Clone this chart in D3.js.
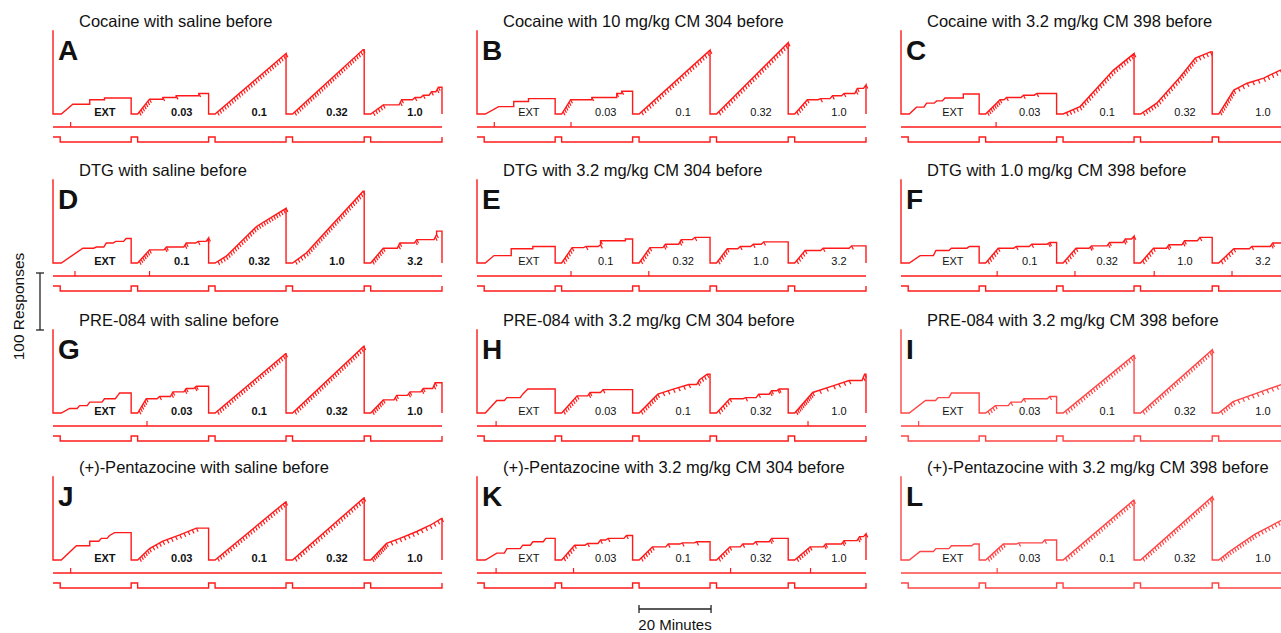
<!DOCTYPE html>
<html>
  <head>
    <meta charset="utf-8">
    <title>Cumulative records</title>
    <style>
      body { margin: 0; background: #fff; }
      svg { display: block; overflow: hidden; }
      text { font-family: "Liberation Sans", Arial, sans-serif; fill: #111; }
    </style>
  </head>
  <body>
    <div id="chart"></div>
  </body>
  <script src="https://cdn.jsdelivr.net/npm/d3@7"></script>
  <script>

    // panel letters and titles (row by row)
    let letters = ["A", "B", "C", "D", "E", "F", "G", "H", "I", "J", "K", "L"];
    let titles = [
      "Cocaine with saline before", "Cocaine with 10 mg/kg CM 304 before", "Cocaine with 3.2 mg/kg CM 398 before",
      "DTG with saline before", "DTG with 3.2 mg/kg CM 304 before", "DTG with 1.0 mg/kg CM 398 before",
      "PRE-084 with saline before", "PRE-084 with 3.2 mg/kg CM 304 before", "PRE-084 with 3.2 mg/kg CM 398 before",
      "(+)-Pentazocine with saline before", "(+)-Pentazocine with 3.2 mg/kg CM 304 before", "(+)-Pentazocine with 3.2 mg/kg CM 398 before"
    ];
    let doseLabelsCocaine = ["EXT", "0.03", "0.1", "0.32", "1.0"];
    let doseLabelsDTG = ["EXT", "0.1", "0.32", "1.0", "3.2"];

    // session timing, minutes
    let sessionLength = 108;
    let componentStart = [2.3, 23.5, 45, 66.5, 88.2];
    let componentEnd = [21.7, 43.2, 64.7, 86.4, 108];
    let timeouts = [[0, 2.0], [21.7, 23.5], [43.2, 45], [64.7, 66.5], [86.4, 88.2]];

    // cumulative records: per component, vertices [minutes from component start, responses, reinforcers on the way]
    let recordA = [
      [[3.2,17,0],[7.9,17,0],[7.9,25,0],[12,25,0],[12,28,0],[19.4,28,0]],
      [[3.3,26,7],[7.0,26,0],[7.0,29,1],[10.7,29,0],[10.7,32,1],[17,32,0],[17,36,1],[19.7,36,0]],
      [[19.7,106,30]],
      [[19.6,113,32]],
      [[3.5,16,5],[8.6,25,2],[12.3,29,1],[14.6,33,1],[16.9,39,1],[18.8,47,2],[19.8,47,0]]
    ];
    let recordB = [
      [[3.7,13,0],[7.9,13,0],[7.9,22,0],[12,22,0],[12,27,0],[19.4,27,0]],
      [[2.5,25,6],[8.4,25,0],[8.4,29,1],[15.3,29,0],[15.3,36,1],[16.7,36,0],[16.7,40,1],[19.7,40,0]],
      [[19.7,112,28]],
      [[19.9,125,30]],
      [[3.5,25,6],[7.2,27,1],[10.5,32,1],[13.7,36,1],[17.4,45,2],[19.8,51,1]]
    ];
    let recordC = [
      [[2,12,0],[4.8,19,0],[7.6,23,0],[9.9,28,0],[15,28,0],[15,35,0],[19.4,35,0]],
      [[4,25,8],[5.8,29,1],[10.5,33,1],[14.2,36,1],[19.7,36,0]],
      [[4.7,13,5],[14,77,15],[19.7,106,8]],
      [[4.5,19,6],[11,65,10],[15.2,98,8],[19.4,109,4]],
      [[4.2,42,10],[7.9,54,3],[12.5,63,3],[17.1,77,4],[19.8,85,2]]
    ];
    let recordD = [
      [[6,26,0],[9.7,28,0],[12.5,35,0],[15.1,38,0],[18,43,0],[19.4,43,0]],
      [[3.3,23,7],[8,28,2],[13.5,35,2],[16.8,38,1],[19.7,44,2]],
      [[3.1,12,4],[11.5,64,14],[19.7,96,12]],
      [[3.9,18,5],[9.4,56,10],[19.6,126,18]],
      [[3.5,26,7],[8.1,35,2],[12.8,41,2],[18.3,50,2],[18.3,56,0],[19.8,56,0]]
    ];
    let recordE = [
      [[2.4,13,0],[7.2,13,0],[7.2,25,0],[13.2,25,0],[13.2,29,0],[19.4,29,0]],
      [[2.9,27,6],[6.8,29,1],[10.8,32,1],[10.8,39,1],[17.7,39,0],[17.7,42,0],[19.7,42,0]],
      [[3,27,6],[7.3,33,2],[11.7,41,2],[15.5,45,1],[19.7,45,0]],
      [[3,25,6],[6.6,29,1],[10.2,33,1],[13.1,37,1],[19.9,37,0]],
      [[2.9,22,5],[7.9,26,1],[15.8,30,1],[19.8,30,0]]
    ];
    let recordF = [
      [[3,13,0],[7.4,22,0],[11.7,26,0],[16.7,29,0],[19.4,29,0]],
      [[3.5,26,6],[8.5,29,1],[12.8,33,1],[17.8,36,2],[19.7,36,0]],
      [[3.6,26,6],[7.9,30,2],[12.9,36,2],[17.3,42,2],[19.7,47,1]],
      [[3.6,26,6],[7.9,32,2],[12.2,39,2],[16.5,45,1],[19.9,45,0]],
      [[4.2,25,6],[9.2,29,1],[15,35,2],[19.8,40,1]]
    ];
    let recordG = [
      [[2.3,8,0],[5.1,13,0],[7.9,19,0],[12,25,0],[15.7,31,0],[16.2,35,0],[19.4,35,0]],
      [[2.4,25,6],[6.1,29,1],[9.8,37,2],[13.5,43,2],[16.3,47,2],[19.7,47,0]],
      [[19.6,104,30]],
      [[19.8,117,32]],
      [[3.5,23,7],[7.2,31,2],[10.9,37,2],[14.6,43,2],[17.9,53,2],[19.8,53,0]]
    ];
    let recordH = [
      [[3.2,22,0],[6,27,0],[10.4,33,0],[11.8,42,0],[19.4,42,0]],
      [[4.3,30,8],[7.9,36,2],[11.5,41,1],[19.7,41,0]],
      [[5.2,33,9],[9.5,42,3],[13.8,50,3],[16.7,58,2],[18.9,68,3],[19.7,68,0]],
      [[3.7,25,6],[8.1,27,1],[11.7,33,1],[15.3,39,2],[17.4,42,2],[19.9,42,0]],
      [[5,36,12],[10.8,48,3],[15.1,57,3],[19.4,68,2],[19.8,68,0]]
    ];
    let recordI = [
      [[4.5,22,0],[8,27,0],[11.7,35,0],[19.4,35,0]],
      [[2.7,13,4],[7,19,1],[10.6,25,1],[17.8,29,1],[19.7,29,0]],
      [[19.6,101,28]],
      [[19.9,111,30]],
      [[4,20,6],[12,38,6],[17.5,50,4],[19.8,56,2]]
    ];
    let recordJ = [
      [[4.2,25,0],[7.9,25,0],[7.9,33,0],[11.1,38,0],[13.4,43,0],[14.8,48,0],[19.4,48,0]],
      [[3.3,20,6],[7,33,4],[11.7,44,4],[16.3,56,4],[19.7,56,0]],
      [[19.6,102,28]],
      [[19.8,109,28]],
      [[4.4,29,10],[8.1,38,3],[12.8,50,4],[16.5,61,3],[19.7,73,3]]
    ];
    let recordK = [
      [[3.2,12,0],[6,20,0],[10.4,26,0],[13.2,32,0],[16.8,38,0],[19.4,38,0]],
      [[3.6,26,6],[7.2,29,1],[10.8,35,1],[12.9,38,1],[18,43,1],[19.7,43,0]],
      [[3.7,23,6],[8.1,28,1],[12,30,1],[16,32,1],[19.7,32,0]],
      [[3.7,23,6],[7.3,28,1],[10.9,32,1],[15.3,38,2],[19.9,38,0]],
      [[4.3,23,7],[8.6,28,2],[13.7,34,2],[18,41,2],[19.8,46,1]]
    ];
    let recordL = [
      [[3,15,0],[7.4,20,0],[11.7,25,0],[18,28,0],[19.4,28,0]],
      [[4.9,28,8],[9.2,30,1],[16.4,35,1],[19.7,35,0]],
      [[19.6,105,28]],
      [[19.9,111,30]],
      [[3,15,5],[10,45,10],[17.5,70,8],[19.8,76,3]]
    ];
    let records = [recordA, recordB, recordC, recordD, recordE, recordF,
                   recordG, recordH, recordI, recordJ, recordK, recordL];

    // event marks on the middle line (minutes into session)
    let markerTimes = [
      [4.9], [4.8, 26.1], [26.4],
      [6.1, 26.8], [26.1, 47.7], [26.7, 48.3, 70.3, 91.9],
      [26.1], [5.3, 91.9], [4.9],
      [4.9], [5.3, 26.8, 70.4, 92.6], [26.7]
    ];

    // layout
    let width = 1281, height = 633;
    let colX = [53, 477, 901];
    let rowBase = [114, 263, 413, 560];
    let panelW = 389;
    let penTop = 147;      // responses at full pen travel
    let pxPer100 = 57;

    let svg = d3.select("#chart").append("svg")
      .attr("width", width)
      .attr("height", height);

    let red = "#ff1a1a";

    records.forEach(function(rec, p) {
      let row = Math.floor(p / 3), col = p % 3;
      let x0 = colX[col], base = rowBase[row];
      let color = col === 2 && row > 1 ? "#ff4545" : red;

      let x = d3.scaleLinear().domain([0, sessionLength]).range([x0, x0 + panelW]);
      let y = d3.scaleLinear().domain([0, 100]).range([base, base - pxPer100]);

      let g = svg.append("g");

      // build the cumulative trace
      let pts = [[0, penTop], [0, 0]];
      let hashes = [];
      rec.forEach(function(comp, c) {
        let t0 = componentStart[c];
        pts.push([t0, 0]);
        let prev = [t0, 0];
        comp.forEach(function(v, i) {
          let t = t0 + v[0], r = v[1], n = v[2];
          let dt = t - prev[0];
          if (i > 0 && n <= 2 && dt > 1.5 && r > prev[1]) {
            // flat then a quick rise (sparse responding)
            let tr = t - 0.7;
            pts.push([tr, prev[1]]);
            for (let k = 1; k <= n; k++) {
              hashes.push([tr + (t - tr) * k / n, prev[1] + (r - prev[1]) * k / n]);
            }
          } else {
            for (let k = 1; k <= n; k++) {
              hashes.push([prev[0] + dt * k / n, prev[1] + (r - prev[1]) * k / n]);
            }
          }
          pts.push([t, r]);
          prev = [t, r];
        });
        if (prev[0] < componentEnd[c]) pts.push([componentEnd[c], prev[1]]);
        pts.push([componentEnd[c], 0]);
      });

      let line = d3.line().x(d => x(d[0])).y(d => y(d[1]));

      g.append("path")
        .attr("d", line(pts))
        .attr("fill", "none")
        .attr("stroke", color)
        .attr("stroke-width", 1.4)
        .attr("stroke-linejoin", "miter");

      g.selectAll(".hash")
        .data(hashes)
        .enter().append("line")
        .attr("x1", d => x(d[0]))
        .attr("y1", d => y(d[1]))
        .attr("x2", d => x(d[0]) + 1.8)
        .attr("y2", d => y(d[1]) + 3.6)
        .attr("stroke", color)
        .attr("stroke-width", 1.2);

      // middle event line with marks
      let midY = base + 13;
      g.append("line")
        .attr("x1", x(0)).attr("x2", x(sessionLength))
        .attr("y1", midY).attr("y2", midY)
        .attr("stroke", color).attr("stroke-width", 1.4);
      g.selectAll(".mark")
        .data(markerTimes[p])
        .enter().append("line")
        .attr("x1", d => x(d)).attr("x2", d => x(d))
        .attr("y1", midY).attr("y2", midY - 5)
        .attr("stroke", color).attr("stroke-width", 1.2);

      // timeout line
      let lo = base + 28, hi = base + 23;
      let ev = d3.path();
      ev.moveTo(x(timeouts[0][0]), hi);
      ev.lineTo(x(timeouts[0][1]), hi);
      ev.lineTo(x(timeouts[0][1]), lo);
      timeouts.slice(1).forEach(function(tp) {
        ev.lineTo(x(tp[0]), lo);
        ev.lineTo(x(tp[0]), hi);
        ev.lineTo(x(tp[1]), hi);
        ev.lineTo(x(tp[1]), lo);
      });
      ev.lineTo(x(sessionLength), lo);
      ev.lineTo(x(sessionLength), hi);
      g.append("path")
        .attr("d", ev.toString())
        .attr("fill", "none")
        .attr("stroke", color)
        .attr("stroke-width", 1.4);

      // component labels
      let labels = row === 1 ? doseLabelsDTG : doseLabelsCocaine;
      g.selectAll(".dose")
        .data(labels)
        .enter().append("text")
        .attr("x", (d, i) => x((componentStart[i] + componentEnd[i]) / 2 + 2.4))
        .attr("y", base + 2)
        .attr("text-anchor", "middle")
        .style("font-size", "11px")
        .style("font-weight", col === 0 ? "bold" : "normal")
        .text(d => d);

      // title and letter
      g.append("text")
        .attr("x", x0 + 26)
        .attr("y", base - 87)
        .style("font-size", "16.5px")
        .text(titles[p]);
      g.append("text")
        .attr("x", x0 + 5)
        .attr("y", base - 54)
        .style("font-size", "28px")
        .style("font-weight", "bold")
        .text(letters[p]);
    });

    // response scale bar
    let yBar = d3.scaleLinear().domain([0, 100]).range([330, 330 - pxPer100]);
    svg.append("line")
      .attr("x1", 40).attr("x2", 40)
      .attr("y1", yBar(0)).attr("y2", yBar(100))
      .attr("stroke", "#222").attr("stroke-width", 1.3);
    [0, 100].forEach(function(v) {
      svg.append("line")
        .attr("x1", 36).attr("x2", 44)
        .attr("y1", yBar(v)).attr("y2", yBar(v))
        .attr("stroke", "#222").attr("stroke-width", 1.3);
    });
    svg.append("text")
      .attr("transform", "translate(24," + ((yBar(0) + yBar(100)) / 2 + 5) + ") rotate(-90)")
      .attr("text-anchor", "middle")
      .style("font-size", "15.5px")
      .text("100 Responses");

    // time scale bar
    let xBar = d3.scaleLinear().domain([0, sessionLength]).range([639, 639 + panelW]);
    svg.append("line")
      .attr("x1", xBar(0)).attr("x2", xBar(20))
      .attr("y1", 609).attr("y2", 609)
      .attr("stroke", "#222").attr("stroke-width", 1.5);
    [0, 20].forEach(function(v) {
      svg.append("line")
        .attr("x1", xBar(v)).attr("x2", xBar(v))
        .attr("y1", 605).attr("y2", 613)
        .attr("stroke", "#222").attr("stroke-width", 1.3);
    });
    svg.append("text")
      .attr("x", (xBar(0) + xBar(20)) / 2)
      .attr("y", 630)
      .attr("text-anchor", "middle")
      .style("font-size", "15px")
      .text("20 Minutes");

  </script>
</html>
